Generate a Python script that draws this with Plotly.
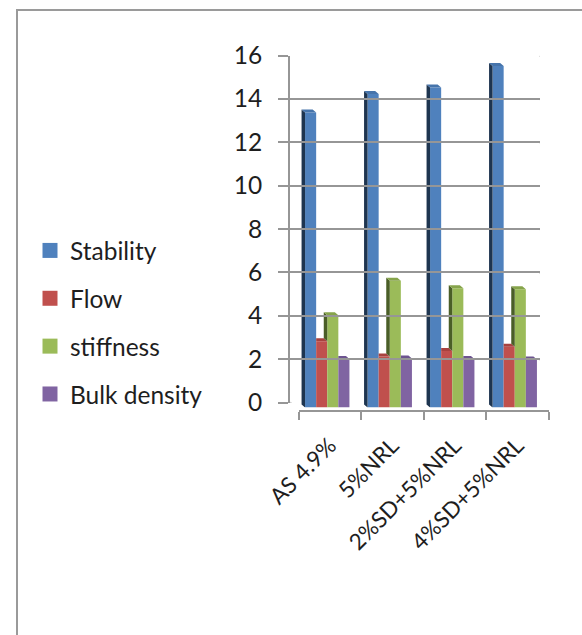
import plotly.graph_objects as go

# ---- data -------------------------------------------------------------
categories = ["AS 4.9%", "5%NRL", "2%SD+5%NRL", "4%SD+5%NRL"]
series_names = ["Stability", "Flow", "stiffness", "Bulk density"]
stability = [13.6, 14.45, 14.75, 15.75]
flow = [3.05, 2.35, 2.6, 2.8]
stiffness = [4.25, 5.85, 5.5, 5.45]
bulk_density = [2.24, 2.26, 2.24, 2.21]
y_ticks = [0, 2, 4, 6, 8, 10, 12, 14, 16]

series_values = [stability, flow, stiffness, bulk_density]
front_colors = ["#4F81BD", "#C0504D", "#9BBB59", "#8064A2"]
cap_colors = ["#4674AB", "#A8423F", "#86A44B", "#6D5490"]
side_colors = ["#1E3550", "#5E2523", "#4A5E27", "#3C2E52"]

# ---- page geometry (pixels) ---------------------------------------------
W, H = 582, 635
WALL_L, WALL_R = 290, 540          # back wall, left/right
WALL_B, WALL_T = 402.5, 55.5       # back wall, value 0 / value 16
BAR_DX, BAR_DY = 6, 5              # bar front plane relative to back wall
FLOOR_DX, FLOOR_DY = 8.5, 7        # floor front edge relative to back wall
SIDE_DX, SIDE_DY = 3.5, 3          # bar depth as seen on screen
Y_MAX = 16
BAR_GAP = 0.29

GRID = "#969696"
FONT = dict(family="Lato, 'Open Sans', sans-serif", size=24.5, color="#1e1e1e")
CAT_FONT = dict(FONT, size=22.5)


def fx(p):
    return p / W


def fy(p):
    return 1 - p / H


px_per_x = (WALL_R - WALL_L) / len(categories)
px_per_y = (WALL_B - WALL_T) / Y_MAX
sdx = SIDE_DX / px_per_x
sdy = SIDE_DY / px_per_y
bar_w = (1 - BAR_GAP) / len(series_values)

fig = go.Figure()

x_pos = list(range(len(categories)))

# front faces of the columns
for name, vals, col in zip(series_names, series_values, front_colors):
    fig.add_trace(go.Bar(
        x=x_pos, y=vals, name=name, marker=dict(color=col, line=dict(width=0)),
        showlegend=False, xaxis="x", yaxis="y",
        hovertemplate=name + ": %{y}<extra></extra>",
    ))

# left side faces and top caps that give the columns their depth
for i, (vals, side_c, cap_c) in enumerate(zip(series_values, side_colors, cap_colors)):
    sx, sy, cx, cy = [], [], [], []
    for j, v in enumerate(vals):
        xl = j - (1 - BAR_GAP) / 2 + i * bar_w
        xr = xl + bar_w
        lo = 0 if i == 0 else series_values[i - 1][j]
        if v > lo:
            sx += [xl, xl, xl - sdx, xl - sdx, xl, None]
            sy += [lo, v, v + sdy, lo + sdy, lo, None]
            cx += [xl, xr, xr - sdx, xl - sdx, xl, None]
            cy += [v, v, v + sdy, v + sdy, v, None]
        else:
            cx += [xl, xr, xr - sdx, xl, xl, None]
            cy += [v, v, v + sdy, v + sdy, v, None]
    fig.add_trace(go.Scatter(x=sx, y=sy, fill="toself", fillcolor=side_c, mode="lines",
                             line=dict(width=0), showlegend=False, hoverinfo="skip",
                             xaxis="x", yaxis="y"))
    fig.add_trace(go.Scatter(x=cx, y=cy, fill="toself", fillcolor=cap_c, mode="lines",
                             line=dict(width=0), showlegend=False, hoverinfo="skip",
                             xaxis="x", yaxis="y"))

# legend entries
for k, (name, col) in enumerate(zip(series_names, front_colors)):
    fig.add_trace(go.Scatter(x=[None], y=[None], name=name, mode="markers",
                             marker=dict(symbol="square", size=15, color=col),
                             legendgroup=f"g{k}", xaxis="x", yaxis="y"))

# back wall subplot (grid + value axis)
fig.add_trace(go.Scatter(x=[None], y=[None], xaxis="x2", yaxis="y2",
                         showlegend=False, hoverinfo="skip"))
# floor front subplot (category axis)
fig.add_trace(go.Scatter(x=categories, y=[0] * len(categories), xaxis="x3", yaxis="y3",
                         mode="markers", marker=dict(opacity=0), showlegend=False,
                         hoverinfo="skip"))

shapes = []
# right wall diagonals at every gridline, and the floor's left edge
for t in y_ticks:
    shapes.append(dict(type="line", xref="x2", yref="y2", xsizemode="pixel", ysizemode="pixel",
                       xanchor=len(categories) - 0.5, yanchor=t, x0=0, x1=FLOOR_DX + 0.5,
                       y0=0, y1=-FLOOR_DY, line=dict(color=GRID, width=2)))
shapes.append(dict(type="line", xref="x2", yref="y2", xsizemode="pixel", ysizemode="pixel",
                   xanchor=-0.5, yanchor=0, x0=0, x1=FLOOR_DX, y0=0, y1=-FLOOR_DY,
                   line=dict(color=GRID, width=2)))
# chart frame
shapes.append(dict(type="rect", xref="paper", yref="paper", x0=fx(17), x1=1.05,
                   y0=-0.05, y1=fy(10), line=dict(color="#9a9a9a", width=2), layer="below"))

fig.update_layout(
    template="none",
    width=W, height=H,
    margin=dict(l=0, r=0, t=0, b=0, pad=0, autoexpand=False),
    paper_bgcolor="white", plot_bgcolor="rgba(0,0,0,0)",
    barmode="group", bargap=BAR_GAP, bargroupgap=0,
    font=FONT,
    shapes=shapes,
    showlegend=True,
    legend=dict(x=fx(30), y=fy(228), xanchor="left", yanchor="top",
                font=FONT, tracegroupgap=13, itemsizing="trace",
                bgcolor="rgba(0,0,0,0)", borderwidth=0),
    xaxis=dict(domain=[fx(WALL_L + BAR_DX), fx(WALL_R + BAR_DX)], range=[-0.5, 3.5],
               visible=False, anchor="y", automargin=False),
    yaxis=dict(domain=[fy(WALL_B + BAR_DY), fy(WALL_T + BAR_DY)], range=[0, Y_MAX],
               visible=False, anchor="x", automargin=False),
    xaxis2=dict(domain=[fx(WALL_L), fx(WALL_R)], range=[-0.5, 3.5], anchor="y2",
                showgrid=False, showticklabels=False, zeroline=False, showline=False,
                ticks="", automargin=False),
    yaxis2=dict(domain=[fy(WALL_B), fy(WALL_T)], range=[0, Y_MAX], anchor="x2",
                tickvals=y_ticks, showgrid=True, gridcolor=GRID, gridwidth=2,
                zeroline=False, showline=True, linecolor=GRID, linewidth=2,
                ticks="outside", ticklen=10, tickwidth=2, tickcolor=GRID,
                tickfont=FONT, ticklabelstandoff=11, automargin=False),
    xaxis3=dict(domain=[fx(WALL_L + FLOOR_DX), fx(WALL_R + FLOOR_DX)], anchor="y3",
                type="category", categoryorder="array", categoryarray=categories,
                range=[-0.5, 3.5], showgrid=False, zeroline=False,
                showline=True, linecolor=GRID, linewidth=2,
                ticks="outside", tickson="boundaries", ticklen=8, tickwidth=2,
                tickcolor=GRID, tickangle=-45, tickfont=CAT_FONT,
                ticklabelstandoff=12, automargin=False),
    yaxis3=dict(domain=[fy(WALL_B + FLOOR_DY), fy(WALL_T + FLOOR_DY)], range=[0, Y_MAX],
                visible=False, anchor="x3", automargin=False),
)

fig.write_html("out.html")
